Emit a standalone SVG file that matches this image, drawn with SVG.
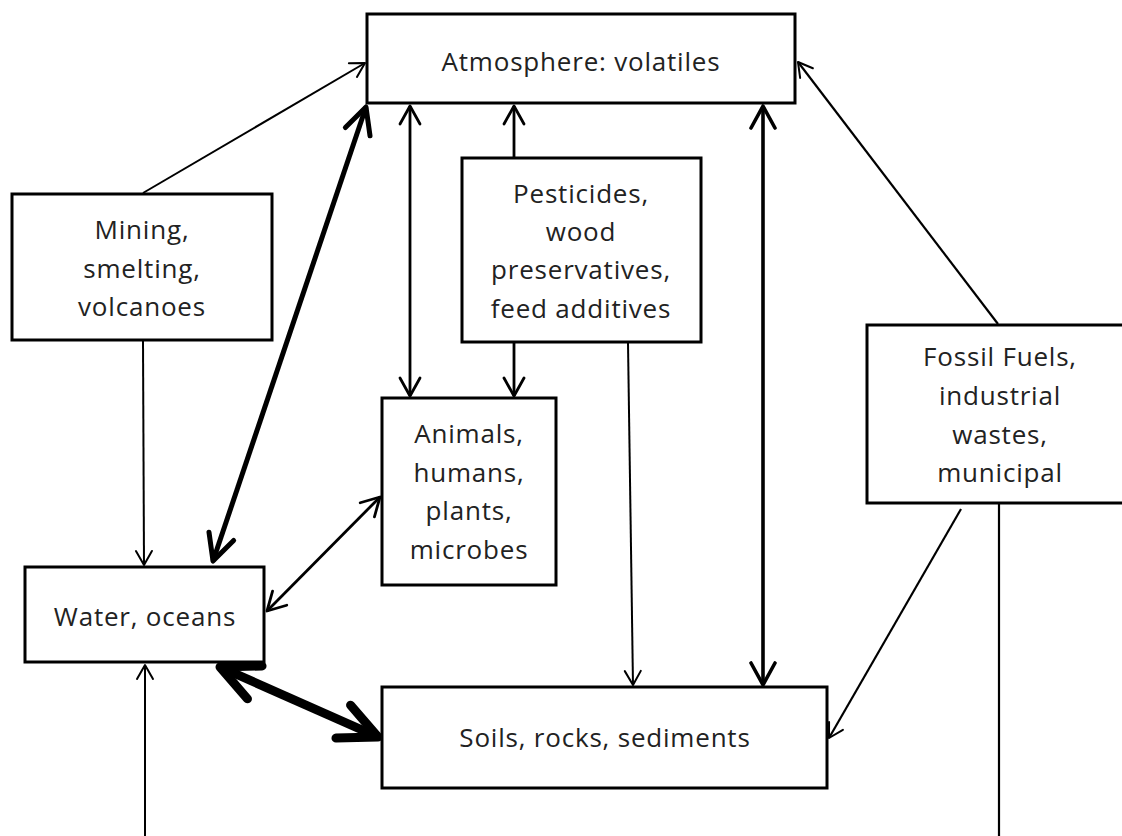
<svg xmlns="http://www.w3.org/2000/svg" width="1122" height="836" viewBox="0 0 1122 836">
<style>
.box{fill:#fff;stroke:#000;stroke-width:3}
.t{font-family:"Open Sans","Liberation Sans",sans-serif;font-size:26px;letter-spacing:0.8px;fill:#222;text-anchor:middle}
.c{fill:none;stroke:#000;stroke-linecap:butt}
.h{fill:none;stroke:#000;stroke-linecap:round;stroke-linejoin:round}
</style>
<defs>
<marker id="m1" markerUnits="userSpaceOnUse" viewBox="-20 -12 24 24" markerWidth="24" markerHeight="24" refX="0" refY="0" orient="auto-start-reverse"><path class="h" d="M-14,-8 L0,0 L-14,8" stroke-width="2"/></marker>
<marker id="m2" markerUnits="userSpaceOnUse" viewBox="-24 -14 28 28" markerWidth="28" markerHeight="28" refX="0" refY="0" orient="auto-start-reverse"><path class="h" d="M-18,-10 L0,0 L-18,10" stroke-width="2.8"/></marker>
<marker id="m3" markerUnits="userSpaceOnUse" viewBox="-28 -16 32 32" markerWidth="32" markerHeight="32" refX="0" refY="0" orient="auto-start-reverse"><path class="h" d="M-22,-12 L0,0 L-22,12" stroke-width="3.6"/></marker>
<marker id="m4" markerUnits="userSpaceOnUse" viewBox="-32 -18 36 36" markerWidth="36" markerHeight="36" refX="0" refY="0" orient="auto-start-reverse"><path class="h" d="M-26,-13 L0,0 L-26,13" stroke-width="5"/></marker>
<marker id="m5" markerUnits="userSpaceOnUse" viewBox="-48 -26 54 52" markerWidth="54" markerHeight="52" refX="0" refY="0" orient="auto-start-reverse"><path class="h" d="M-38,-18 L0,0 L-38,18" stroke-width="9"/></marker>
</defs>
<g id="connectors">
<line class="c" x1="143" y1="193" x2="365" y2="63" stroke-width="2" marker-end="url(#m1)"/>
<line class="c" x1="213" y1="561" x2="366" y2="107" stroke-width="5" marker-start="url(#m4)" marker-end="url(#m4)"/>
<line class="c" x1="143" y1="341" x2="144" y2="565" stroke-width="2" marker-end="url(#m1)"/>
<line class="c" x1="267" y1="611" x2="380" y2="497" stroke-width="2.8" marker-start="url(#m2)" marker-end="url(#m2)"/>
<line class="c" x1="145" y1="836" x2="145" y2="665" stroke-width="2" marker-end="url(#m1)"/>
<line class="c" x1="220" y1="667" x2="378" y2="737" stroke-width="9" marker-start="url(#m5)" marker-end="url(#m5)"/>
<line class="c" x1="410" y1="106" x2="410" y2="396" stroke-width="2.8" marker-start="url(#m2)" marker-end="url(#m2)"/>
<line class="c" x1="514" y1="157" x2="514" y2="106" stroke-width="2.8" marker-end="url(#m2)"/>
<line class="c" x1="514" y1="343" x2="514" y2="396" stroke-width="2.8" marker-end="url(#m2)"/>
<line class="c" x1="628" y1="343" x2="633" y2="685" stroke-width="2" marker-end="url(#m1)"/>
<line class="c" x1="763" y1="106" x2="763" y2="685" stroke-width="3.6" marker-start="url(#m3)" marker-end="url(#m3)"/>
<line class="c" x1="998" y1="324" x2="798" y2="62" stroke-width="2.2" marker-end="url(#m1)"/>
<line class="c" x1="961" y1="509" x2="829" y2="738" stroke-width="2.2" marker-end="url(#m1)"/>
<line class="c" x1="999" y1="504" x2="999" y2="836" stroke-width="2.2"/>
</g>
<g id="atmosphere">
<rect class="box" x="367" y="14" width="428" height="89"/>
<text class="t" x="581" y="71">Atmosphere: volatiles</text>
</g>
<g id="mining">
<rect class="box" x="12" y="194" width="260" height="146"/>
<text class="t" x="142" y="239">Mining,</text>
<text class="t" x="142" y="278">smelting,</text>
<text class="t" x="142" y="316">volcanoes</text>
</g>
<g id="pesticides">
<rect class="box" x="462" y="158" width="239" height="184"/>
<text class="t" x="581" y="203">Pesticides,</text>
<text class="t" x="581" y="241">wood</text>
<text class="t" x="581" y="279">preservatives,</text>
<text class="t" x="581" y="318">feed additives</text>
</g>
<g id="fossil">
<rect class="box" x="867" y="325" width="270" height="178"/>
<text class="t" x="1000" y="366">Fossil Fuels,</text>
<text class="t" x="1000" y="405">industrial</text>
<text class="t" x="1000" y="444">wastes,</text>
<text class="t" x="1000" y="482">municipal</text>
</g>
<g id="animals">
<rect class="box" x="382" y="398" width="174" height="187"/>
<text class="t" x="469" y="443">Animals,</text>
<text class="t" x="469" y="482">humans,</text>
<text class="t" x="469" y="520">plants,</text>
<text class="t" x="469" y="559">microbes</text>
</g>
<g id="water">
<rect class="box" x="25" y="567" width="239" height="95"/>
<text class="t" x="145" y="626">Water, oceans</text>
</g>
<g id="soils">
<rect class="box" x="382" y="687" width="445" height="101"/>
<text class="t" x="605" y="747">Soils, rocks, sediments</text>
</g>
</svg>
